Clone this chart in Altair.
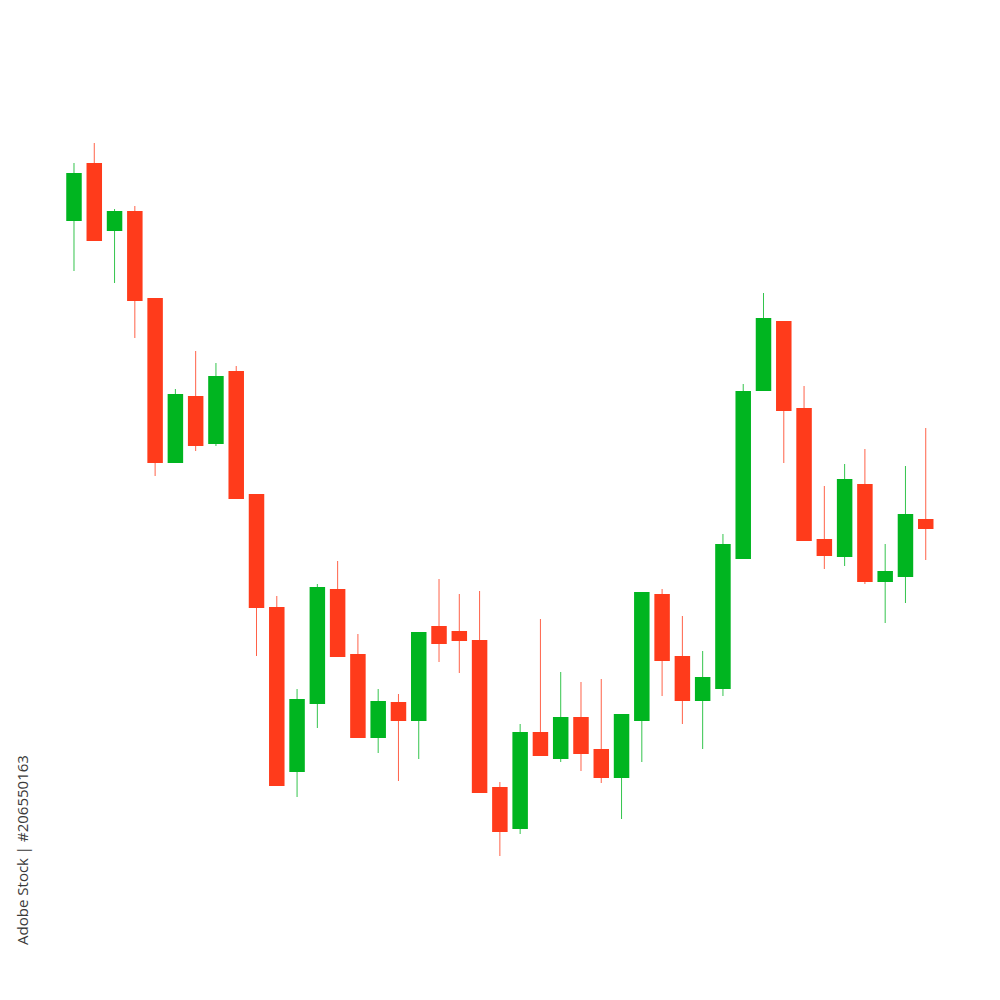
import altair as alt
import pandas as pd

opens  = [77.9, 83.7, 76.9, 78.9, 70.2, 53.7, 60.4, 55.6, 62.9, 50.6,
          39.3, 22.8, 29.6, 41.1, 34.6, 26.2, 29.8, 27.9, 37.4, 36.9,
          36.0, 21.3, 17.1, 26.8, 24.1, 28.3, 25.1, 22.2, 27.9, 40.6,
          34.4, 29.9, 31.1, 44.1, 60.9, 67.9, 59.2, 46.1, 44.3, 51.6,
          41.8, 42.3, 48.1]
closes = [82.7, 75.9, 78.9, 69.9, 53.7, 60.6, 55.4, 62.4, 50.1, 39.2,
          21.4, 30.1, 41.3, 34.3, 26.2, 29.9, 27.9, 36.8, 35.6, 35.9,
          20.7, 16.8, 26.8, 24.4, 28.3, 24.6, 22.2, 28.6, 40.8, 33.9,
          29.9, 32.3, 45.6, 60.9, 68.2, 58.9, 45.9, 44.4, 52.1, 41.8,
          42.9, 48.6, 47.1]
highs  = [83.7, 85.7, 79.1, 79.4, 70.2, 61.1, 64.9, 63.7, 63.4, 50.6,
          40.4, 31.1, 41.6, 43.9, 36.6, 31.1, 30.6, 36.8, 42.1, 40.6,
          40.9, 21.8, 27.6, 38.1, 32.8, 31.8, 32.1, 28.6, 40.8, 41.1,
          38.4, 34.9, 46.6, 61.6, 70.7, 67.9, 61.4, 51.4, 53.6, 55.1,
          45.6, 53.4, 57.2]
lows   = [72.9, 75.9, 71.7, 66.2, 52.4, 53.7, 54.9, 55.4, 50.1, 34.4,
          21.4, 20.3, 27.2, 34.3, 26.2, 24.7, 21.9, 24.1, 33.8, 32.7,
          20.7, 14.4, 16.6, 24.4, 23.8, 22.9, 21.7, 18.1, 23.8, 30.4,
          27.6, 25.1, 30.4, 44.1, 60.9, 53.7, 45.9, 43.1, 43.4, 41.6,
          37.7, 39.7, 44.0]

credit = ["Adobe Stock | #206550163"]

UP = "#00B520"
DOWN = "#FF3B1B"

df = pd.DataFrame({
    "t": list(range(len(opens))),
    "open": opens,
    "close": closes,
    "high": highs,
    "low": lows,
})
df["dir"] = ["up" if c >= o else "down" for o, c in zip(opens, closes)]

W, H = 980, 980
xscale = alt.Scale(domain=[-3.254, 45.07], nice=False, zero=False, padding=0)
yscale = alt.Scale(domain=[1.2, 99.2], nice=False, zero=False, padding=0)
color = alt.Color("dir:N", scale=alt.Scale(domain=["up", "down"], range=[UP, DOWN]), legend=None)

base = alt.Chart(df)

wicks = base.mark_rule(strokeWidth=1, opacity=0.8).encode(
    x=alt.X("t:Q", scale=xscale, axis=None),
    y=alt.Y("low:Q", scale=yscale, axis=None),
    y2="high:Q",
    color=color,
)

bodies = base.mark_bar(size=15.5).encode(
    x=alt.X("t:Q", scale=xscale, axis=None),
    y=alt.Y("open:Q", scale=yscale, axis=None),
    y2="close:Q",
    color=color,
)

label = alt.Chart(pd.DataFrame({"txt": credit})).mark_text(
    angle=270, align="center", baseline="middle", fontSize=15,
    font="Open Sans", color="#3a3a3a"
).encode(
    text="txt:N",
    x=alt.value(15),
    y=alt.value(842),
)

chart = alt.layer(wicks, bodies, label).properties(
    width=W, height=H, padding=0,
    autosize=alt.AutoSizeParams(type="none"),
).configure_view(stroke=None)

chart.save("out.html", embed_options={"renderer": "svg", "actions": False})
